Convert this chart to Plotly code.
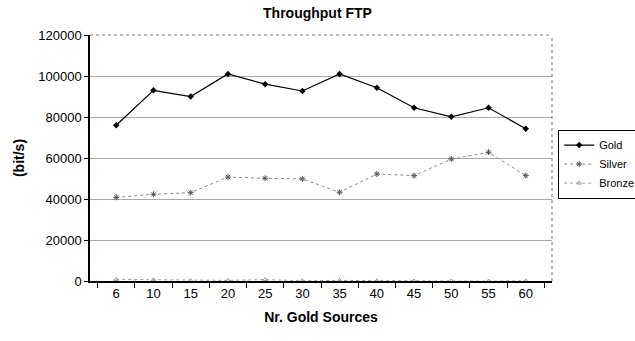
import plotly.graph_objects as go

# Number of gold sources (category axis)
sources = ["6", "10", "15", "20", "25", "30", "35", "40", "45", "50", "55", "60"]

# FTP throughput per service class (bit/s)
gold = [76000, 93000, 90000, 101000, 96000, 92700, 101000, 94300, 84500, 80100, 84500, 74300]
silver = [40800, 42300, 43100, 50700, 50100, 49800, 43300, 52200, 51400, 59500, 62800, 51400]
bronze = [800, 600, 200, 300, 700, 100, 300, 100, 0, 0, 0, 100]

y_ticks = [0, 20000, 40000, 60000, 80000, 100000, 120000]

font_family = "Liberation Sans, Arial, sans-serif"

fig = go.Figure()
fig.add_trace(go.Scatter(
    x=sources, y=gold, name="Gold", mode="lines+markers",
    line=dict(color="black", width=1.2),
    marker=dict(symbol="diamond", size=5, color="black"),
))
fig.add_trace(go.Scatter(
    x=sources, y=silver, name="Silver", mode="lines+markers",
    line=dict(color="#8a8a8a", width=1, dash="dot"),
    marker=dict(symbol="asterisk-open", size=5, color="#555555",
                line=dict(color="#555555", width=1)),
))
fig.add_trace(go.Scatter(
    x=sources, y=bronze, name="Bronze", mode="lines+markers",
    line=dict(color="#9a9a9a", width=1, dash="dot"),
    marker=dict(symbol="triangle-up-open", size=4, color="#999999",
                line=dict(color="#999999", width=1)),
))

# dotted frame on top and right of the plotting area
fig.add_shape(type="line", xref="paper", yref="paper", x0=0, x1=1, y0=1, y1=1,
              line=dict(color="#777777", width=1, dash="dot"))
fig.add_shape(type="line", xref="paper", yref="paper", x0=1, x1=1, y0=0, y1=1,
              line=dict(color="#777777", width=1, dash="dot"))

fig.update_layout(
    width=635, height=341,
    margin=dict(l=90, r=83, t=35, b=60, autoexpand=False),
    paper_bgcolor="white", plot_bgcolor="white",
    font=dict(family=font_family, size=13, color="black"),
    title=dict(text="<b>Throughput FTP</b>", x=0.5, xanchor="center",
               y=0.962, yanchor="middle", font=dict(size=14)),
    showlegend=True,
    legend=dict(xref="container", yref="container",
                x=0.879, y=0.62, xanchor="left", yanchor="top",
                bordercolor="black", borderwidth=1, bgcolor="white",
                font=dict(size=11), tracegroupgap=0, itemwidth=30),
)
fig.update_xaxes(
    type="category", categoryorder="array", categoryarray=sources,
    tickson="boundaries", ticks="outside", ticklen=5, tickcolor="black",
    showline=True, linecolor="black", linewidth=1.5,
    showgrid=False, zeroline=False,
    tickfont=dict(size=13),
    title=dict(text="<b>Nr. Gold Sources</b>", font=dict(size=14), standoff=12),
)
fig.update_yaxes(
    range=[0, 120000], tickvals=y_ticks, ticktext=[str(v) for v in y_ticks],
    ticks="outside", ticklen=4, tickcolor="black",
    showline=True, linecolor="black", linewidth=1.5,
    showgrid=True, gridcolor="#a8a8a8", gridwidth=1,
    zeroline=False, tickfont=dict(size=13),
    title=dict(text="<b>(bit/s)</b>", font=dict(size=14), standoff=10),
)

fig.write_html("out.html")
